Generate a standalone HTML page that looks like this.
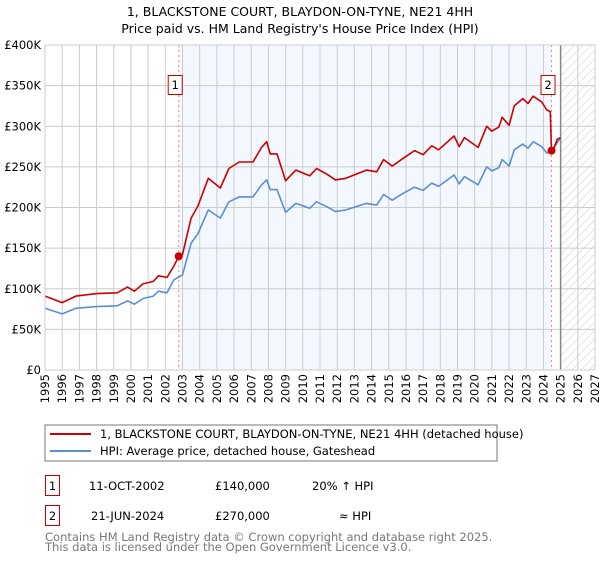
<!DOCTYPE html>
<html><head><meta charset="utf-8"><style>
body{margin:0;background:#fff;font-family:"DejaVu Sans","Liberation Sans",sans-serif;}
svg text{font-family:"DejaVu Sans","Liberation Sans",sans-serif;}
</style></head><body>
<svg id="c" width="600" height="560" viewBox="0 0 600 560">
<defs><pattern id="hatch" width="6" height="6" patternUnits="userSpaceOnUse" patternTransform="rotate(45)"><line x1="0" y1="0" x2="0" y2="6" stroke="#ccc" stroke-width="1"/></pattern></defs>
<text x="300" y="16" text-anchor="middle" font-size="12.5">1, BLACKSTONE COURT, BLAYDON-ON-TYNE, NE21 4HH</text>
<text x="300" y="33" text-anchor="middle" font-size="12.5">Price paid vs. HM Land Registry's House Price Index (HPI)</text>
<g id="plot"></g>
<rect x="45" y="425" width="452" height="36" fill="none" stroke="#777"/>
<line x1="50" y1="434" x2="91" y2="434" stroke="#cc0000" stroke-width="2"/>
<text x="100" y="438" font-size="11.5">1, BLACKSTONE COURT, BLAYDON-ON-TYNE, NE21 4HH (detached house)</text>
<line x1="50" y1="451" x2="91" y2="451" stroke="#5b8fd4" stroke-width="2"/>
<text x="100" y="455" font-size="11.5">HPI: Average price, detached house, Gateshead</text>
<g>
<rect x="45.5" y="475.5" width="14" height="20" fill="none" stroke="#cc0000"/>
<text x="52.5" y="490" text-anchor="middle" font-size="11.5">1</text>
<text x="89" y="490" font-size="11.5">11-OCT-2002</text>
<text x="215" y="490" font-size="11.5">£140,000</text>
<text x="312" y="490" font-size="11.5">20% ↑ HPI</text>
</g>
<g>
<rect x="45.5" y="505.5" width="14" height="20" fill="none" stroke="#cc0000"/>
<text x="52.5" y="520" text-anchor="middle" font-size="11.5">2</text>
<text x="91" y="520" font-size="11.5">21-JUN-2024</text>
<text x="215" y="520" font-size="11.5">£270,000</text>
<text x="339" y="520" font-size="11.5">≈ HPI</text>
</g>
<text x="45" y="541" font-size="11.5" fill="#777">Contains HM Land Registry data © Crown copyright and database right 2025.</text>
<text x="45" y="551" font-size="11.5" fill="#777">This data is licensed under the Open Government Licence v3.0.</text>
</svg>
<script>
const yTicks=[0,50000,100000,150000,200000,250000,300000,350000,400000];
const yTickLabels=["£0","£50K","£100K","£150K","£200K","£250K","£300K","£350K","£400K"];
const xYears=[1995,1996,1997,1998,1999,2000,2001,2002,2003,2004,2005,2006,2007,2008,2009,2010,2011,2012,2013,2014,2015,2016,2017,2018,2019,2020,2021,2022,2023,2024,2025,2026,2027];
const hpiT=[1995,1996,1996.8,1998,1999.2,1999.8,2000.2,2000.7,2001.3,2001.6,2002.1,2002.5,2003,2003.5,2003.9,2004.5,2005.2,2005.7,2006.3,2007.1,2007.6,2007.9,2008.1,2008.5,2009,2009.6,2010.4,2010.8,2011.4,2011.9,2012.5,2013.7,2014.3,2014.7,2015.2,2015.8,2016.5,2017,2017.5,2017.9,2018.8,2019.1,2019.4,2020.2,2020.7,2021,2021.4,2021.6,2022,2022.3,2022.8,2023.1,2023.4,2023.9,2024.2,2024.6,2025];
const hpiV=[76,69,76,78,79,85,81,88,91,97,95,111,117,156,168,197,187,207,213,213,228,234,222,222,194,205,199,207,201,195,197,205,203,216,209,217,225,221,230,226,240,229,238,228,250,245,249,259,251,271,278,273,281,275,267,273,286];
const priceT=[1995,1996,1996.8,1998,1999.2,1999.8,2000.2,2000.7,2001.3,2001.6,2002.1,2002.5,2002.78,2003,2003.5,2003.9,2004.5,2005.2,2005.7,2006.3,2007.1,2007.6,2007.9,2008.1,2008.5,2009,2009.6,2010.4,2010.8,2011.4,2011.9,2012.5,2013.7,2014.3,2014.7,2015.2,2015.8,2016.5,2017,2017.5,2017.9,2018.8,2019.1,2019.4,2020.2,2020.7,2021,2021.4,2021.6,2022,2022.3,2022.8,2023.1,2023.4,2023.9,2024.2,2024.4,2024.47,2024.6,2024.8,2025];
const priceV=[91,83,91,94,95,102,97,106,109,116,114,128,140,142,187,202,236,224,248,256,256,274,281,266,266,233,246,239,248,241,234,236,246,244,259,251,260,270,265,276,271,288,275,286,274,300,294,299,311,301,325,334,328,337,330,320,318,270,272,284,286];
const sales=[{t:2002.78,v:140,l:"1"},{t:2024.47,v:270,l:"2"}];
const X0=45,X1=595,Y0=370,Y1=45;
const xs=t=>X0+(t-1995)/32*(X1-X0);
const ys=v=>Y0-v/400000*(Y0-Y1);
const NS="http://www.w3.org/2000/svg",g=document.getElementById('plot');
function mk(tag,a,p){const e=document.createElementNS(NS,tag);for(const k in a)e.setAttribute(k,a[k]);(p||g).appendChild(e);return e;}
let e=mk('rect',{x:xs(sales[0].t),y:Y1,width:xs(sales[1].t)-xs(sales[0].t),height:Y0-Y1,fill:'#f3f7fe'});


e=mk('rect',{x:xs(2025),y:Y1,width:X1-xs(2025),height:Y0-Y1,fill:'url(#hatch)'});


xYears.forEach((y,i)=>{
 e=mk('line',{x1:xs(y),x2:xs(y),y1:Y1,y2:Y0,stroke:'#ccc'});
 
 
 const tx=xs(y)+4,ty=374;
 e=mk('text',{x:tx,y:ty,'text-anchor':'end','font-size':'11.5',transform:'rotate(-90 '+tx+' '+ty+')'});e.textContent=y;
 
 
});
yTicks.forEach((v,i)=>{
 e=mk('line',{x1:X0,x2:X1,y1:ys(v),y2:ys(v),stroke:'#ccc'});
 
 
 e=mk('text',{x:X0-4,y:ys(v)+4,'text-anchor':'end','font-size':'11.5'});e.textContent=yTickLabels[i];
 
 
});
e=mk('line',{x1:xs(2025),x2:xs(2025),y1:Y1,y2:Y0,stroke:'#888','stroke-width':1.5});


sales.forEach(s=>{
 e=mk('line',{x1:xs(s.t),x2:xs(s.t),y1:Y1,y2:Y0,stroke:'#e88','stroke-dasharray':'2,3'});
 
 
});
function path(T,V,c,name){const d=T.map((t,i)=>(i?'L':'M')+xs(t).toFixed(1)+','+ys(V[i]*1000).toFixed(1)).join('');
 const p=mk('path',{d:d,fill:'none',stroke:c,'stroke-width':1.6,'stroke-linejoin':'round'});
 
 }
path(hpiT,hpiV,'#5b8fd4','hpi-line');
path(priceT,priceV,'#cc0000','price-line');
sales.forEach(s=>{
 e=mk('circle',{cx:xs(s.t),cy:ys(s.v*1000),r:4,fill:'#cc0000'});
 
 
 const bx=xs(s.t)-10;
 e=mk('rect',{x:bx-0.5,y:75.5,width:14,height:19,fill:'#fff',stroke:'#cc0000'});
 
 
 e=mk('text',{x:bx+6.5,y:89,'text-anchor':'middle','font-size':'11.5'});e.textContent=s.l;
 
 
});
e=mk('rect',{x:X0,y:Y1,width:X1-X0,height:Y0-Y1,fill:'none',stroke:'#ccc'});


</script>
</body></html>
